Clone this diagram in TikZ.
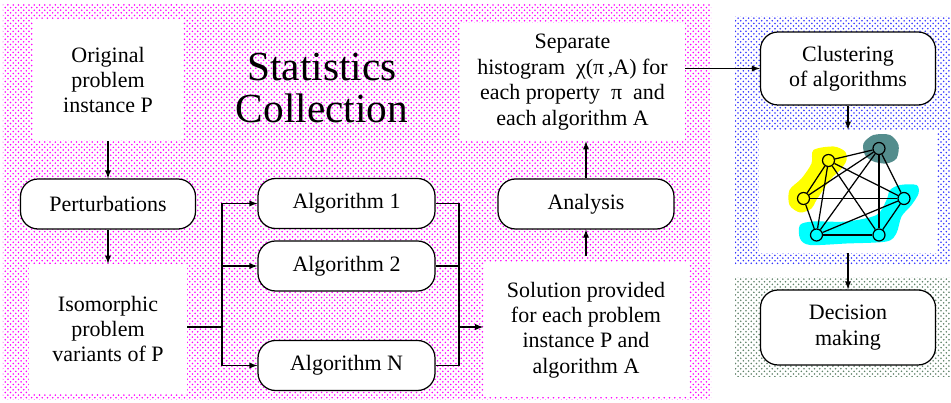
\documentclass[tikz,border=0pt]{standalone}
\usepackage{fontspec}
\setmainfont{Liberation Serif}
\usetikzlibrary{shapes,arrows,positioning,calc,patterns}

\definecolor{clteal}{RGB}{84,141,141}
\definecolor{clgreen}{RGB}{95,130,105}
\definecolor{clcyan}{RGB}{0,255,255}
\definecolor{clyellow}{RGB}{255,255,0}

\begin{document}
\begin{tikzpicture}[
    base/.style = {font=\fontsize{12.5}{14.5}\selectfont, align=center},
    textbox/.style = {base, rectangle, fill=white, inner sep=0pt},
    proc/.style = {base, rectangle, draw, fill=white, rounded corners=10pt, minimum width=3.5cm, minimum height=1cm, line width=0.7pt},
    vertex/.style = {circle, draw, line width=0.7pt, minimum size=0.24cm, inner sep=0pt},
    edge/.style = {line width=0.7pt},
    line/.style = {line width=0.6pt},
    arrow/.style = {-latex, line width=0.6pt}
]
    \useasboundingbox (0,0) rectangle (19.02,8.06);

    % Backgrounds
    \fill[pattern=crosshatch dots, pattern color=magenta] (0.06,0.06) rectangle (14.22,7.96);
    \fill[pattern=crosshatch dots, pattern color=blue!80] (14.70,2.76) rectangle (19.00,7.72);
    \fill[pattern=crosshatch dots, pattern color=clgreen] (14.70,0.52) rectangle (19.00,2.50);

    % Title
    \node[font=\fontsize{23.5}{24.4}\selectfont, align=center] (title) at (6.44,6.30) {Statistics\\Collection};

    % Input side
    \node[textbox, minimum width=3.0cm, minimum height=2.42cm] (orig) at (2.16,6.46) {Original\\problem\\instance P};
    \node[proc] (pert) at (2.16,3.98) {Perturbations};
    \node[textbox, minimum width=3.16cm, minimum height=2.6cm] (iso) at (2.16,1.48) {Isomorphic\\problem\\variants of P};

    % Algorithms
    \node[proc, minimum width=3.54cm] (alg1) at (6.93,3.99) {Algorithm 1};
    \node[proc, minimum width=3.54cm] (alg2) at (6.93,2.74) {Algorithm 2};
    \node[proc, minimum width=3.54cm] (algN) at (6.93,0.75) {Algorithm N};

    % Output side
    \node[textbox, minimum width=4.1cm, minimum height=2.7cm] (sol) at (11.72,1.46) {Solution provided\\for each problem\\instance P and\\algorithm A};
    \node[proc, minimum width=3.52cm] (analysis) at (11.72,3.98) {Analysis};
    \node[textbox, minimum width=4.5cm, minimum height=2.36cm] (hist) at (11.45,6.42) {Separate\\histogram\enspace χ(π\,,A) for\\each property\enspace π\enspace and\\each algorithm A};

    % Clustering side
    \node[proc, minimum height=1.46cm] (clust) at (16.96,6.69) {Clustering\\of algorithms};
    \node[rectangle, fill=white, minimum width=3.56cm, minimum height=2.46cm] (graph) at (16.96,4.23) {};
    \node[proc, minimum height=1.5cm] (dec) at (16.96,1.51) {Decision\\making};

    % Clusters
    \fill[clyellow] plot[smooth cycle] coordinates {(16.27,5.06) (16.67,5.13) (16.90,5.03) (16.93,4.86) (16.83,4.69) (16.60,4.46) (16.33,4.06) (16.23,3.89) (16.00,3.81) (15.79,3.96) (15.79,4.26) (16.03,4.49) (16.23,4.79)};
    \fill[clteal] plot[smooth cycle] coordinates {(17.27,5.19) (17.47,5.36) (17.80,5.36) (17.97,5.16) (17.93,4.89) (17.73,4.79) (17.47,4.83) (17.30,4.96)};
    \fill[clcyan] plot[smooth cycle] coordinates {(16.00,3.56) (16.27,3.63) (16.93,3.63) (17.53,3.76) (17.73,4.06) (17.80,4.26) (18.00,4.36) (18.33,4.36) (18.37,4.19) (18.23,3.96) (18.03,3.73) (17.93,3.40) (17.73,3.23) (16.93,3.19) (16.20,3.16) (16.00,3.29)};

    % Graph
    \node[vertex, fill=clyellow] (n1) at (16.57,4.85) {};
    \node[vertex, fill=clyellow] (n2) at (16.07,4.09) {};
    \node[vertex, fill=clteal] (n3) at (17.58,5.09) {};
    \node[vertex, fill=clcyan] (n4) at (18.08,4.09) {};
    \node[vertex, fill=clcyan] (n5) at (16.33,3.36) {};
    \node[vertex, fill=clcyan] (n6) at (17.58,3.36) {};
    \draw[edge] (n1) -- (n2);
    \draw[edge] (n1) -- (n3);
    \draw[edge] (n1) -- (n4);
    \draw[edge] (n1) -- (n5);
    \draw[edge] (n1) -- (n6);
    \draw[edge] (n2) -- (n3);
    \draw[edge] (n2) -- (n4);
    \draw[edge] (n2) -- (n5);
    \draw[edge] (n3) -- (n4);
    \draw[edge] (n3) -- (n5);
    \draw[edge] (n3) -- (n6);
    \draw[edge] (n4) -- (n5);
    \draw[edge] (n4) -- (n6);
    \draw[edge] (n5) -- (n6);

    % Arrows
    \coordinate (split) at (4.44,1.52);
    \coordinate (merge) at (9.18,1.52);
    \draw[arrow] (orig) -- (pert);
    \draw[arrow] (pert) -- (iso);
    \draw[line] (iso.east |- split) -- (split);
    \draw[arrow] (split) |- (alg1);
    \draw[arrow] (split) |- (alg2);
    \draw[arrow] (split) |- (algN);
    \draw[line] (alg1) -| (merge);
    \draw[line] (alg2) -| (merge);
    \draw[line] (algN) -| (merge);
    \draw[arrow] (merge) -- (sol.west |- merge);
    \draw[arrow, shorten <=0.12cm] (sol) -- (analysis);
    \draw[arrow] (analysis.north) -- (analysis.north |- hist.south);
    \draw[arrow] (hist.east |- clust.west) -- (clust.west);
    \draw[arrow] (clust) -- (graph);
    \draw[arrow] (graph) -- (dec);

\end{tikzpicture}
\end{document}
